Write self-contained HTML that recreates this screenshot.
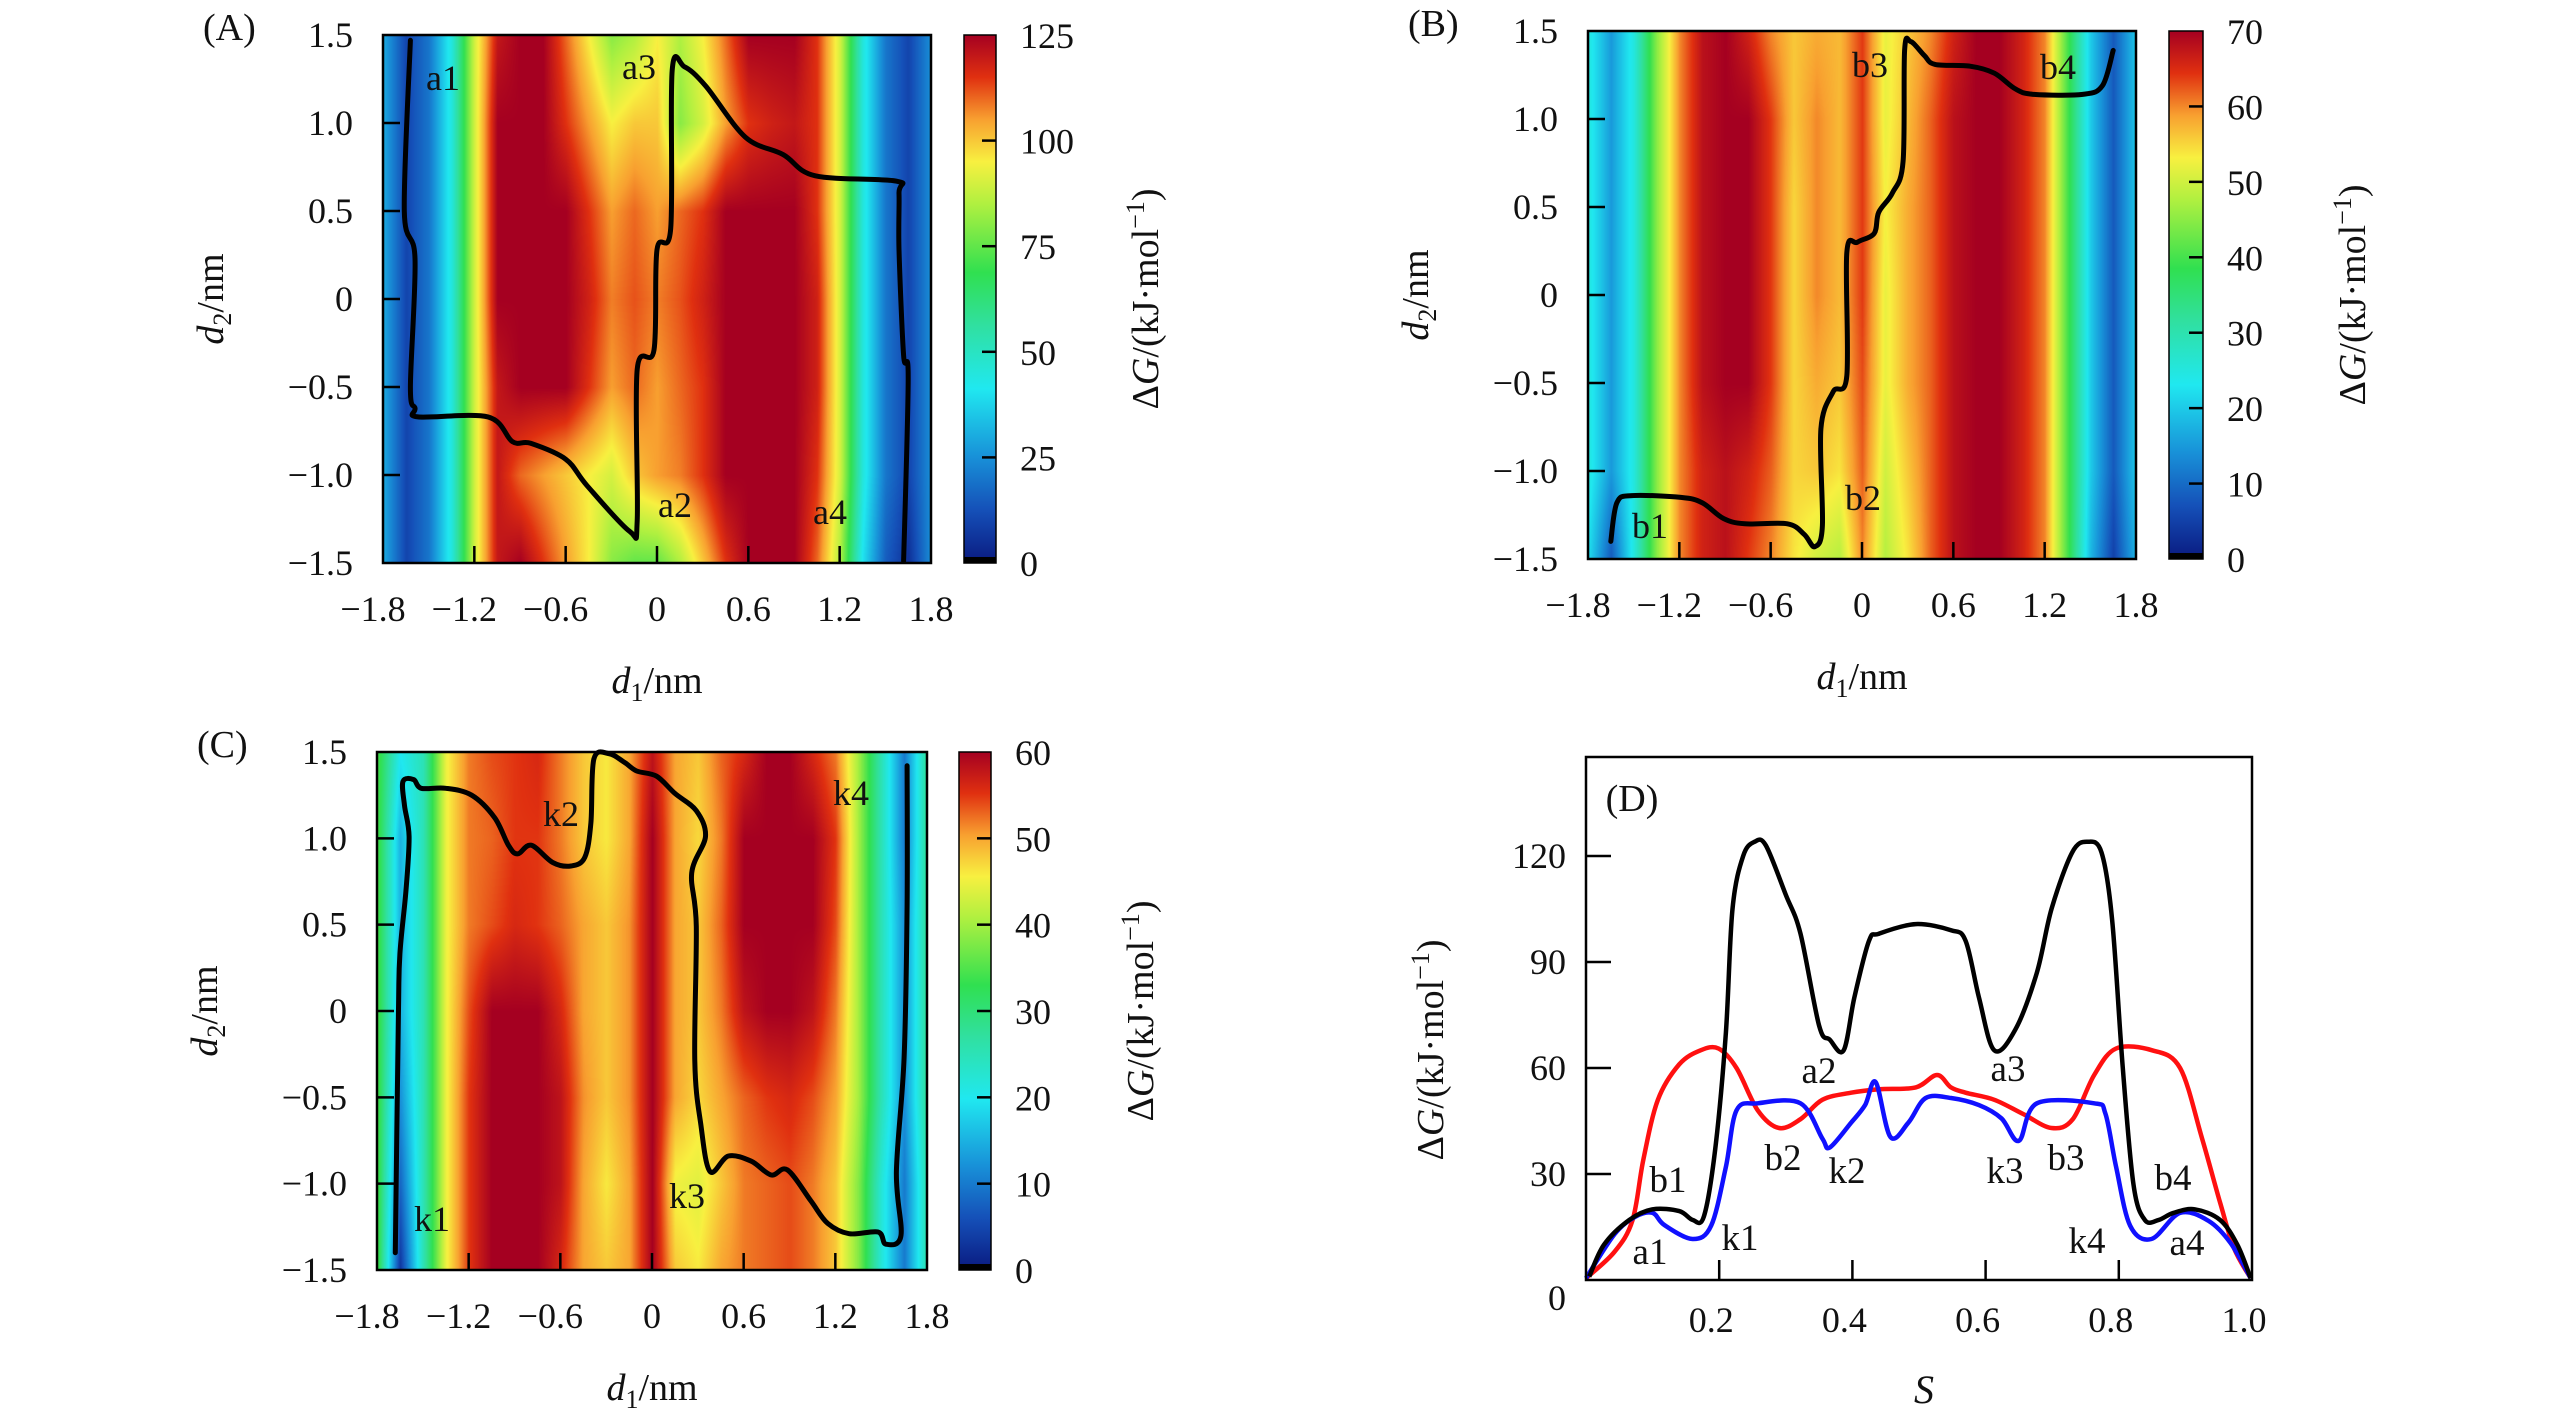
<!DOCTYPE html>
<html><head><meta charset="utf-8">
<style>
html,body{margin:0;padding:0;background:#fff;}
#wrap{position:relative;width:2567px;height:1417px;overflow:hidden;background:#fff;}
canvas{position:absolute;}
svg{position:absolute;left:0;top:0;}
text{font-family:"Liberation Serif",serif;fill:#111;}
</style></head>
<body>
<div id="wrap">
<canvas id="cvA"></canvas>
<canvas id="cvB"></canvas>
<canvas id="cvC"></canvas>
<svg id="svg" width="2567" height="1417" xmlns="http://www.w3.org/2000/svg">
<defs>
<linearGradient id="jetV" x1="0" y1="1" x2="0" y2="0">
<stop offset="0" stop-color="#0a1a80"/><stop offset="0.1" stop-color="#1550b8"/><stop offset="0.2" stop-color="#1890d8"/><stop offset="0.33" stop-color="#20e8f0"/><stop offset="0.45" stop-color="#30e0a0"/><stop offset="0.55" stop-color="#30e050"/><stop offset="0.68" stop-color="#b0f040"/><stop offset="0.76" stop-color="#f8f040"/><stop offset="0.84" stop-color="#f8a030"/><stop offset="0.92" stop-color="#e03010"/><stop offset="1" stop-color="#a50021"/>
</linearGradient>
</defs>
</svg>
</div>
<script>
// ---------------- DATA ----------------
const d1Cols = [-1.8,-1.65,-1.5,-1.35,-1.2,-1.05,-0.9,-0.75,-0.6,-0.45,-0.3,-0.15,0,0.15,0.3,0.45,0.6,0.75,0.9,1.05,1.2,1.35,1.5,1.65,1.8];
const d2Rows = [1.5,1.0,0.5,0,-0.5,-1.0,-1.5];
const gridA = [
[30,10,20,45,90,120,125,125,110,95,80,85,95,85,95,110,125,125,125,115,90,45,20,10,25],
[30,10,20,45,90,125,125,125,115,105,95,100,100,80,90,105,115,118,120,115,90,45,20,10,25],
[30,10,20,45,90,125,125,125,125,115,105,110,105,110,115,125,125,125,125,115,90,45,20,10,25],
[30,10,20,45,90,125,125,125,125,118,108,112,108,112,118,125,125,125,125,118,90,45,20,10,25],
[30,10,20,45,90,120,125,125,125,115,105,110,105,110,115,125,125,125,125,118,90,45,20,10,25],
[30,10,20,45,90,120,110,105,100,95,90,100,105,108,115,125,125,125,125,115,90,45,20,10,25],
[30,10,20,45,90,120,125,115,105,95,80,75,75,85,100,115,125,125,125,110,85,40,15,5,25]];
const gridB = [
[25,15,25,45,60,68,70,66,60,56,58,57,64,52,56,60,66,70,70,66,60,40,20,8,20],
[25,15,25,45,60,68,70,70,64,56,60,57,64,52,57,62,68,70,70,66,60,40,20,8,20],
[25,15,25,45,60,68,70,70,64,55,60,57,64,53,58,62,68,70,70,66,60,40,20,8,20],
[25,15,25,45,60,68,70,70,64,55,60,57,64,52,58,62,68,70,70,66,60,40,20,8,20],
[25,15,25,45,60,68,70,70,64,55,58,56,63,52,58,62,68,70,70,66,60,40,20,8,20],
[25,15,25,45,60,66,68,66,62,55,56,54,62,50,56,62,68,70,70,66,60,40,20,8,20],
[22,8,25,45,60,66,68,64,60,54,50,48,60,48,54,62,68,70,70,66,60,40,18,5,18]];
const gridC = [
[35,20,25,45,52,54,55,56,52,48,46,50,58,50,48,53,56,60,60,56,52,40,25,10,28],
[35,15,25,45,52,53,55,55,52,48,46,50,60,50,47,52,60,60,60,60,55,40,25,10,28],
[35,15,25,45,52,54,56,55,53,50,48,51,60,50,48,53,60,60,60,60,54,40,25,12,28],
[35,15,25,45,54,60,60,60,56,50,48,51,60,50,48,52,58,60,60,58,52,40,25,12,28],
[35,12,25,45,55,60,60,60,58,51,48,51,60,50,47,50,53,55,56,54,50,40,25,12,28],
[35,8,25,45,55,60,60,60,58,50,46,50,60,45,44,48,52,53,54,52,48,38,22,10,26],
[35,3,25,45,55,60,60,60,56,50,48,50,60,48,46,50,52,53,54,52,48,38,22,10,26]];
const pathA = [[-1.62,1.47],[-1.66,0.5],[-1.59,0.23],[-1.62,-0.5],[-1.59,-0.62],[-1.57,-0.67],[-1.11,-0.67],[-0.95,-0.81],[-0.83,-0.82],[-0.6,-0.91],[-0.46,-1.06],[-0.18,-1.32],[-0.13,-1.26],[-0.13,-0.4],[-0.02,-0.29],[0.0,0.28],[0.09,0.4],[0.1,1.3],[0.18,1.32],[0.32,1.21],[0.58,0.92],[0.83,0.82],[1.04,0.7],[1.57,0.67],[1.59,0.6],[1.59,0.28],[1.62,-0.32],[1.65,-0.45],[1.62,-1.49]];
const pathB = [[-1.65,-1.4],[-1.61,-1.18],[-1.51,-1.14],[-1.19,-1.15],[-1.05,-1.18],[-0.91,-1.27],[-0.77,-1.3],[-0.49,-1.3],[-0.38,-1.36],[-0.31,-1.43],[-0.26,-1.31],[-0.27,-0.76],[-0.19,-0.55],[-0.1,-0.46],[-0.1,0.24],[-0.03,0.3],[0.08,0.35],[0.11,0.47],[0.2,0.58],[0.27,0.76],[0.28,1.39],[0.32,1.44],[0.41,1.36],[0.48,1.31],[0.71,1.3],[0.87,1.26],[1.01,1.17],[1.13,1.14],[1.45,1.14],[1.58,1.19],[1.65,1.39]];
const pathC = [[-1.68,-1.4],[-1.66,-0.03],[-1.65,0.33],[-1.61,0.7],[-1.59,1.01],[-1.62,1.19],[-1.63,1.33],[-1.56,1.34],[-1.51,1.29],[-1.35,1.29],[-1.18,1.25],[-1.03,1.12],[-0.94,0.96],[-0.88,0.91],[-0.79,0.96],[-0.65,0.86],[-0.53,0.84],[-0.44,0.89],[-0.4,1.09],[-0.38,1.46],[-0.28,1.49],[-0.18,1.44],[-0.1,1.39],[0.03,1.36],[0.15,1.26],[0.29,1.16],[0.35,1.01],[0.26,0.8],[0.29,0.49],[0.28,-0.29],[0.32,-0.66],[0.38,-0.93],[0.5,-0.84],[0.65,-0.87],[0.78,-0.95],[0.886,-0.92],[1.04,-1.1],[1.15,-1.23],[1.29,-1.29],[1.48,-1.28],[1.53,-1.35],[1.63,-1.3],[1.6,-0.93],[1.65,-0.27],[1.67,0.61],[1.67,1.42]];
const sBlack = [0.005,0.027,0.065,0.10,0.14,0.16,0.177,0.194,0.21,0.22,0.236,0.253,0.27,0.30,0.322,0.35,0.366,0.387,0.403,0.425,0.44,0.495,0.548,0.57,0.59,0.613,0.645,0.677,0.699,0.73,0.753,0.774,0.79,0.806,0.822,0.839,0.86,0.882,0.914,0.952,0.978,0.998];
const gBlack = [1,10,17,20,19.5,17,18,37,70,105,120,124,123,109,98,72,68,65,80,96,98,100.7,99,96,80,65,71,87,105,121,124,121,102,60,27,17,17,19,20,17,10,0.5];
const sRed = [0.0,0.043,0.07,0.086,0.108,0.14,0.172,0.199,0.226,0.258,0.29,0.322,0.355,0.398,0.44,0.495,0.527,0.548,0.57,0.613,0.656,0.699,0.731,0.763,0.796,0.85,0.892,0.925,0.952,0.973,0.998];
const gRed = [0.5,8,17,34,51,61,65,65.5,60,48,43,45.5,51,53,54,54.5,58,54.5,53,51,47,43,45.5,58,65.5,65,60,40,22,9,0.5];
const sBlue = [0.0,0.043,0.075,0.1,0.118,0.16,0.188,0.21,0.226,0.258,0.322,0.355,0.366,0.398,0.419,0.435,0.457,0.484,0.51,0.548,0.59,0.624,0.65,0.677,0.763,0.78,0.796,0.817,0.849,0.892,0.935,0.968,0.998];
const gBlue = [0.5,13,18,19,15.5,11.6,15.4,32,48,50,50,40,37.5,44.5,49.5,56,40.5,44.5,51.5,51.5,49.5,45.7,39.4,50,50,47,32,15.4,11.6,19,16.7,10.4,0.5];
const xTicksHeat = [-1.8,-1.2,-0.6,0,0.6,1.2,1.8];
const yTicksHeat = [1.5,1.0,0.5,0,-0.5,-1.0,-1.5];
const cbTicksA = [0,25,50,75,100,125];
const cbTicksB = [0,10,20,30,40,50,60,70];
const cbTicksC = [0,10,20,30,40,50,60];
const xTicksD = [0.2,0.4,0.6,0.8,1.0];
const yTicksD = [0,30,60,90,120];

// ---------------- HELPERS ----------------
const NS = "http://www.w3.org/2000/svg";
const svg = document.getElementById('svg');
function el(tag, attrs, parent, txt){
  const e = document.createElementNS(NS, tag);
  for (const k in attrs) e.setAttribute(k, attrs[k]);
  if (txt !== undefined) e.textContent = txt;
  (parent || svg).appendChild(e);
  return e;
}
function fmt(v){ const s = (Math.abs(v)%1===0 && Math.abs(v)<10 && v!==0 && String(v).indexOf('.')<0) ? v.toFixed(1) : String(v); return s.replace('-', '\u2212'); }
const cmapStops = [[0,[10,26,128]],[0.1,[21,80,184]],[0.2,[24,144,216]],[0.33,[32,232,240]],[0.45,[48,224,160]],[0.55,[48,224,80]],[0.68,[176,240,64]],[0.76,[248,240,64]],[0.84,[248,160,48]],[0.92,[224,48,16]],[1,[165,0,33]]];
function cmap(t){
  t = Math.max(0, Math.min(1, t));
  for (let i=1;i<cmapStops.length;i++){
    if (t <= cmapStops[i][0]){
      const a = cmapStops[i-1], b = cmapStops[i], f = (t-a[0])/(b[0]-a[0]);
      return [0,1,2].map(k => Math.round(a[1][k] + f*(b[1][k]-a[1][k])));
    }
  }
  return cmapStops[cmapStops.length-1][1];
}
function crPath(pts){
  let d = 'M' + pts[0][0].toFixed(1) + ',' + pts[0][1].toFixed(1);
  for (let i=0;i<pts.length-1;i++){
    const p0 = pts[i-1]||pts[i], p1 = pts[i], p2 = pts[i+1], p3 = pts[i+2]||p2;
    const c1 = [p1[0]+(p2[0]-p0[0])/6, p1[1]+(p2[1]-p0[1])/6];
    const c2 = [p2[0]-(p3[0]-p1[0])/6, p2[1]-(p3[1]-p1[1])/6];
    d += ' C' + c1[0].toFixed(1)+','+c1[1].toFixed(1)+' '+c2[0].toFixed(1)+','+c2[1].toFixed(1)+' '+p2[0].toFixed(1)+','+p2[1].toFixed(1);
  }
  return d;
}

// ---------------- HEATMAP PANELS ----------------
function heatPanel(cfg){
  const {key, x0, x1, y0, y1, cbx0, cbx1, vmax, grid, path, cbTicks, labels} = cfg;
  const sx = v => x0 + (v + 1.8) / 3.6 * (x1 - x0);
  const sy = v => y0 + (1.5 - v) / 3.0 * (y1 - y0);
  // canvas heatmap
  const cv = document.getElementById('cv' + key);
  const W = x1 - x0, H = y1 - y0;
  cv.width = W; cv.height = H; cv.style.left = x0 + 'px'; cv.style.top = y0 + 'px';
  const ctx = cv.getContext('2d');
  const img = ctx.createImageData(W, H);
  for (let py=0; py<H; py++){
    const d2 = 1.5 - py/H*3;
    let r = (1.5 - d2)/0.5; let ri = Math.min(Math.floor(r), d2Rows.length-2); let rf = r - ri;
    for (let px=0; px<W; px++){
      const d1 = -1.8 + px/W*3.6;
      let c = (d1 + 1.8)/0.15; let ci = Math.min(Math.floor(c), d1Cols.length-2); let cf = c - ci;
      const v = (grid[ri][ci]*(1-cf) + grid[ri][ci+1]*cf)*(1-rf) + (grid[ri+1][ci]*(1-cf) + grid[ri+1][ci+1]*cf)*rf;
      const col = cmap(v / vmax);
      const o = (py*W + px)*4;
      img.data[o]=col[0]; img.data[o+1]=col[1]; img.data[o+2]=col[2]; img.data[o+3]=255;
    }
  }
  ctx.putImageData(img, 0, 0);

  const g = el('g', {}); 
  
  
  // path
  const pts = path.map(p => [sx(p[0]), sy(p[1])]);
  const pe = el('path', {d: crPath(pts), fill:'none', stroke:'#000', 'stroke-width':5, 'stroke-linejoin':'round', 'stroke-linecap':'round'}, g);
  
  
  // frame
  const fr = el('rect', {x:x0, y:y0, width:W, height:H, fill:'none', stroke:'#000', 'stroke-width':2.5}, g);
  
  
  // x ticks
  xTicksHeat.forEach(v => {
    const x = sx(v);
    if (v > -1.8 && v < 1.8) el('line', {x1:x, x2:x, y1:y1, y2:y1-17, stroke:'#000','stroke-width':2.5}, g);
    const t = el('text', {x: x + (v<0 ? -10 : 0), y: y1 + 58, 'font-size':36, 'text-anchor':'middle'}, g, fmt(v));
    
    
  });
  yTicksHeat.forEach(v => {
    const y = sy(v);
    if (v > -1.5 && v < 1.5) el('line', {x1:x0, x2:x0+17, y1:y, y2:y, stroke:'#000','stroke-width':2.5}, g);
    const t = el('text', {x: x0 - 30, y: y + 12, 'font-size':36, 'text-anchor':'end'}, g, v===0 ? '0' : fmt(v));
    
    
  });
  // colorbar
  const cb = el('rect', {x:cbx0, y:y0, width:cbx1-cbx0, height:H, fill:'url(#jetV)', stroke:'#000', 'stroke-width':1.5}, g);
  
  
  el('rect', {x:cbx0, y:y1-6, width:cbx1-cbx0, height:6, fill:'#000'}, g);
  const cmax = cbTicks[cbTicks.length-1];
  cbTicks.forEach(v => {
    const y = y1 - v/cmax*H;
    if (v>0 && v<cmax) el('line', {x1:cbx1-14, x2:cbx1, y1:y, y2:y, stroke:'#000','stroke-width':2.5}, g);
    const t = el('text', {x: cbx1 + 24, y: y + 13, 'font-size':36}, g, String(v));
    
    
  });
  // colorbar title
  const tx = cbx1 + 162, ty = (y0+y1)/2;
  const ct = el('text', {x:tx, y:ty, 'font-size':38, 'text-anchor':'middle', transform:`rotate(-90 ${tx} ${ty})`}, g);
  
  
  ct.innerHTML = '\u0394<tspan font-style="italic">G</tspan>/(kJ\u00b7mol<tspan dy="-14" font-size="26">\u22121</tspan><tspan dy="14">)</tspan>';
  // axis titles
  const xt = el('text', {x:(x0+x1)/2, y: y1 + 130, 'font-size':38, 'text-anchor':'middle'}, g);
  
  
  xt.innerHTML = '<tspan font-style="italic">d</tspan><tspan dy="8" font-size="26">1</tspan><tspan dy="-8">/nm</tspan>';
  const yx = x0 - 160, yy = (y0+y1)/2;
  const yt = el('text', {x:yx, y:yy, 'font-size':38, 'text-anchor':'middle', transform:`rotate(-90 ${yx} ${yy})`}, g);
  
  
  yt.innerHTML = '<tspan font-style="italic">d</tspan><tspan dy="8" font-size="26">2</tspan><tspan dy="-8">/nm</tspan>';
  // panel letter
  const pl = el('text', {x: x0 - 180, y: y0 + 5, 'font-size':38}, g, '(' + key + ')');
  
  
  // state labels
  labels.forEach(l => {
    const t = el('text', {x:l[1], y:l[2], 'font-size':36, 'text-anchor':'middle'}, g, l[0]);
    
    
  });
}
heatPanel({key:'A', x0:383, x1:931, y0:35, y1:563, cbx0:964, cbx1:996, vmax:125, grid:gridA, path:pathA, cbTicks:cbTicksA,
  labels:[['a1',443,90],['a3',639,79],['a2',675,517],['a4',830,524]]});
heatPanel({key:'B', x0:1588, x1:2136, y0:31, y1:559, cbx0:2169, cbx1:2203, vmax:70, grid:gridB, path:pathB, cbTicks:cbTicksB,
  labels:[['b3',1870,77],['b4',2058,79],['b2',1863,510],['b1',1650,538]]});
heatPanel({key:'C', x0:377, x1:927, y0:752, y1:1270, cbx0:959, cbx1:991, vmax:60, grid:gridC, path:pathC, cbTicks:cbTicksC,
  labels:[['k2',561,826],['k1',432,1231],['k3',687,1208],['k4',851,805]]});

// ---------------- PANEL D ----------------
(function(){
  const x0=1586, x1=2252, y0=757, y1=1280, ymax=148;
  const sx = v => x0 + v*(x1-x0);
  const sy = v => y1 - v/ymax*(y1-y0);
  const g = el('g', {});
  
  
  const series = [['red-curve', sRed, gRed, '#ff1010'], ['blue-curve', sBlue, gBlue, '#1010ff'], ['black-curve', sBlack, gBlack, '#000']];
  // draw black last-ish order: red, blue underneath, black on top? reference shows black over; keep order
  series.forEach(s => {
    const pts = s[1].map((v,i) => [sx(v), sy(s[2][i])]);
    const p = el('path', {d: crPath(pts), fill:'none', stroke:s[3], 'stroke-width':4.5, 'stroke-linejoin':'round'}, g);
    
    
  });
  const fr = el('rect', {x:x0, y:y0, width:x1-x0, height:y1-y0, fill:'none', stroke:'#000', 'stroke-width':2.5}, g);
  
  
  xTicksD.forEach(v => {
    const x = sx(v);
    if (v < 1) el('line', {x1:x, x2:x, y1:y1, y2:y1-20, stroke:'#000','stroke-width':2.5}, g);
    const t = el('text', {x:x-8, y:1332, 'font-size':36, 'text-anchor':'middle'}, g, v.toFixed(1));
    
    
  });
  yTicksD.forEach(v => {
    const y = sy(v);
    if (v > 0) el('line', {x1:x0, x2:x0+25, y1:y, y2:y, stroke:'#000','stroke-width':2.5}, g);
    const t = el('text', {x:1566, y: v===0 ? 1310 : y+12, 'font-size':36, 'text-anchor':'end'}, g, String(v));
    
    
  });
  const pl = el('text', {x:1632, y:811, 'font-size':38, 'text-anchor':'middle'}, g, '(D)');
  
  
  const xt = el('text', {x:1924, y:1403, 'font-size':40, 'text-anchor':'middle', 'font-style':'italic'}, g, 'S');
  
  
  const yx=1443, yy=1050;
  const yt = el('text', {x:yx, y:yy, 'font-size':38, 'text-anchor':'middle', transform:`rotate(-90 ${yx} ${yy})`}, g);
  
  
  yt.innerHTML = '\u0394<tspan font-style="italic">G</tspan>/(kJ\u00b7mol<tspan dy="-14" font-size="26">\u22121</tspan><tspan dy="14">)</tspan>';
  const labs = [['a1',1650,1264],['b1',1668,1192],['k1',1740,1250],['b2',1783,1170],['k2',1847,1183],['a2',1819,1083],['a3',2008,1081],['k3',2005,1183],['b3',2066,1170],['k4',2087,1253],['b4',2173,1190],['a4',2187,1255]];
  labs.forEach(l => {
    const t = el('text', {x:l[1], y:l[2], 'font-size':37, 'text-anchor':'middle'}, g, l[0]);
    
    
  });
})();
</script>
</body></html>
